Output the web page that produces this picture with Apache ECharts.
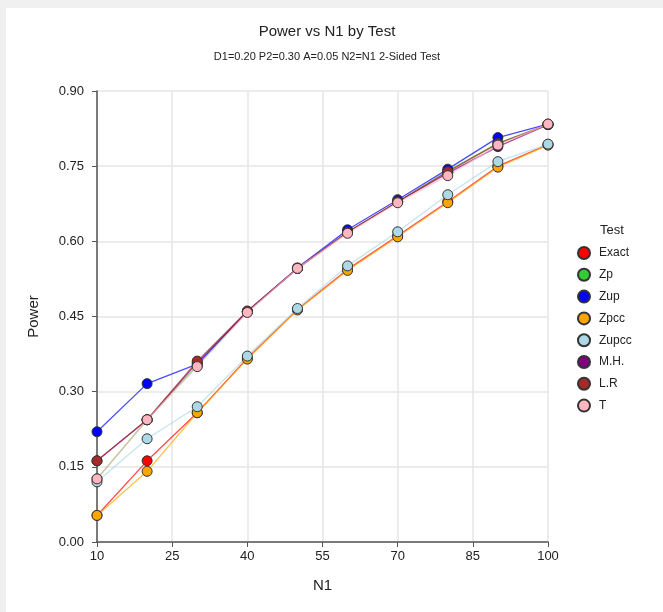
<!DOCTYPE html>
<html>
<head>
<meta charset="utf-8">
<script src="https://cdn.jsdelivr.net/npm/echarts@6/dist/echarts.min.js"></script>
<style>
  html, body { margin: 0; padding: 0; background: #f0f0f0; }
  #main { position: absolute; left: 6px; top: 8px; width: 657px; height: 604px; background: #fff; }
</style>
</head>
<body>
<div id="main"></div>
<script>
  // N1 values
  var n1 = [10, 20, 30, 40, 50, 60, 70, 80, 90, 100];

  // power by test
  var exact = [0.053, 0.162, 0.258, 0.367, 0.464, 0.544, 0.611, 0.679, 0.750, 0.793];
  var zp    = [0.126, 0.244, 0.352, 0.460, 0.546, 0.618, 0.679, 0.740, 0.796, 0.833];
  var zup   = [0.220, 0.316, 0.355, 0.460, 0.547, 0.623, 0.683, 0.744, 0.807, 0.834];
  var zpcc  = [0.053, 0.141, 0.258, 0.365, 0.463, 0.542, 0.609, 0.677, 0.748, 0.792];
  var zupcc = [0.120, 0.206, 0.270, 0.371, 0.466, 0.551, 0.619, 0.693, 0.759, 0.794];
  var mh    = [0.162, 0.244, 0.358, 0.460, 0.546, 0.618, 0.679, 0.736, 0.789, 0.833];
  var lr    = [0.162, 0.244, 0.361, 0.461, 0.546, 0.618, 0.679, 0.739, 0.795, 0.833];
  var tt    = [0.126, 0.244, 0.350, 0.458, 0.546, 0.616, 0.677, 0.731, 0.792, 0.834];

  var names  = ['Exact', 'Zp', 'Zup', 'Zpcc', 'Zupcc', 'M.H.', 'L.R', 'T'];
  var colors = ['#ff0000', '#33cc33', '#0000ff', '#ffa500', '#add8e6', '#800080', '#a52a2a', '#ffb6c1'];
  var values = [exact, zp, zup, zpcc, zupcc, mh, lr, tt];

  var series = names.map(function (name, i) {
    return {
      name: name,
      type: 'line',
      data: n1.map(function (x, j) { return [x, values[i][j]]; }),
      symbol: 'circle',
      symbolSize: 10,
      itemStyle: { color: colors[i], borderColor: '#333', borderWidth: 1 },
      lineStyle: { color: colors[i], width: 1.3, opacity: 0.7 },
      emphasis: { disabled: true }
    };
  });

  var myChart = echarts.init(document.getElementById('main'));
  var option = {
    backgroundColor: '#ffffff',
    animation: false,
    title: [
      {
        text: 'Power vs N1 by Test',
        subtext: 'D1=0.20 P2=0.30 A=0.05 N2=N1 2-Sided Test',
        left: 316, top: 11, textAlign: 'center',
        itemGap: 12,
        textStyle: { fontFamily: 'Liberation Sans', fontSize: 15, fontWeight: 'normal', color: '#222' },
        subtextStyle: { fontFamily: 'Liberation Sans', fontSize: 11, color: '#222' }
      },
      {
        text: 'Test',
        left: 601, top: 211, textAlign: 'center',
        textStyle: { fontFamily: 'Liberation Sans', fontSize: 13, fontWeight: 'normal', color: '#222' }
      }
    ],
    legend: {
      data: names,
      orient: 'vertical',
      left: 566, top: 233,
      itemWidth: 12, itemHeight: 12, itemGap: 7.8,
      icon: 'circle',
      textStyle: { fontFamily: 'Liberation Sans', fontSize: 12, color: '#222', padding: [0, 0, 0, 4] }
    },
    grid: { left: 91, right: 115, top: 83, bottom: 70 },
    xAxis: {
      type: 'value',
      name: 'N1',
      nameLocation: 'middle',
      nameGap: 36,
      nameTextStyle: { fontFamily: 'Liberation Sans', fontSize: 15, color: '#222' },
      min: 10, max: 100, interval: 15,
      axisLine: { lineStyle: { color: '#555', width: 1.5 } },
      axisTick: { show: true, length: 5, lineStyle: { color: '#555' } },
      axisLabel: { fontFamily: 'Liberation Sans', fontSize: 13, color: '#222', margin: 8 },
      splitLine: { show: true, lineStyle: { color: '#e6e6e6', width: 1.5 } }
    },
    yAxis: {
      type: 'value',
      name: 'Power',
      nameLocation: 'middle',
      nameGap: 56,
      nameTextStyle: { fontFamily: 'Liberation Sans', fontSize: 15, color: '#222' },
      min: 0, max: 0.9, interval: 0.15,
      axisLine: { show: true, lineStyle: { color: '#555', width: 1.5 } },
      axisTick: { show: true, length: 5, lineStyle: { color: '#555' } },
      axisLabel: {
        fontFamily: 'Liberation Sans', fontSize: 13, color: '#222', margin: 13,
        formatter: function (v) { return v.toFixed(2); }
      },
      splitLine: { show: true, lineStyle: { color: '#e6e6e6', width: 1.5 } }
    },
    series: series
  };
  myChart.setOption(option);
</script>
</body>
</html>
